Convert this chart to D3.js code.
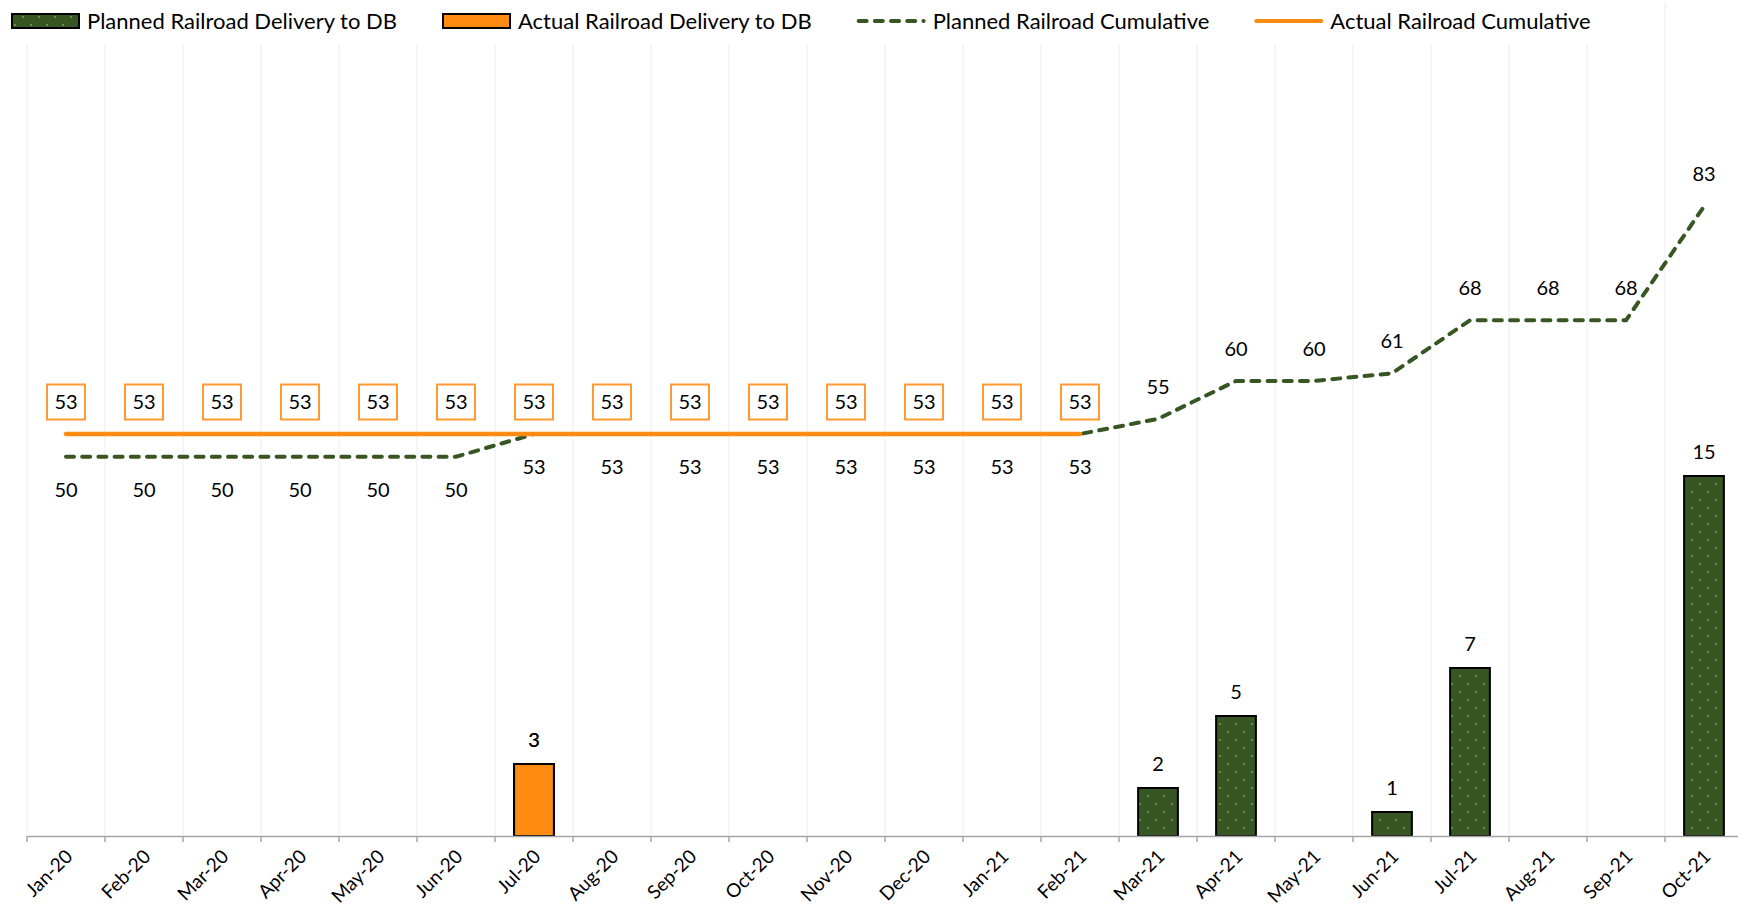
<!DOCTYPE html>
<html>
<head>
<meta charset="utf-8">
<script src="https://cdn.jsdelivr.net/npm/d3@7"></script>
<style>
    body { margin: 0; background: #fff; }
    text { font-family: Lato, "Open Sans", sans-serif; fill: #000; }
</style>
</head>
<body>
<svg id="chart" width="1738" height="909"></svg>
<script>
// months on the category axis
var months = ['Jan-20', 'Feb-20', 'Mar-20', 'Apr-20', 'May-20', 'Jun-20', 'Jul-20', 'Aug-20',
    'Sep-20', 'Oct-20', 'Nov-20', 'Dec-20', 'Jan-21', 'Feb-21', 'Mar-21', 'Apr-21', 'May-21',
    'Jun-21', 'Jul-21', 'Aug-21', 'Sep-21', 'Oct-21'];

// monthly deliveries (bars), null = nothing that month
var plannedDelivery = [null, null, null, null, null, null, 3, null, null, null, null, null, null, null,
    2, 5, null, 1, 7, null, null, 15];
var actualDelivery = [null, null, null, null, null, null, 3, null, null, null, null, null, null, null,
    null, null, null, null, null, null, null, null];

// cumulative lines (secondary axis)
var plannedCumulative = [50, 50, 50, 50, 50, 50, 53, 53, 53, 53, 53, 53, 53, 53,
    55, 60, 60, 61, 68, 68, 68, 83];
var actualCumulative = [53, 53, 53, 53, 53, 53, 53, 53, 53, 53, 53, 53, 53, 53,
    null, null, null, null, null, null, null, null];

var legendLabels = ['Planned Railroad Delivery to DB', 'Actual Railroad Delivery to DB',
    'Planned Railroad Cumulative', 'Actual Railroad Cumulative'];

var green = '#375623';
var orange = '#ff8c12';

var svg = d3.select('#chart');

var plot = {l: 27, r: 1743, t: 2, b: 836};

var x = d3.scaleBand().domain(months).range([plot.l, plot.r]);
var barW = x.bandwidth() * 0.51;
// primary axis (bars) and secondary axis (lines), both hidden
var yBar = d3.scaleLinear().domain([0, 33]).range([plot.b, 44]);
var yLine = d3.scaleLinear().domain([0, 104]).range([plot.b, 47.2]);

function cx(i) { return x(months[i]) + x.bandwidth() / 2; }

// dotted fill for the planned bars
var defs = svg.append('defs');
var pat = defs.append('pattern')
    .attr('id', 'dots')
    .attr('patternUnits', 'userSpaceOnUse')
    .attr('width', 16).attr('height', 16);
pat.append('rect').attr('width', 16).attr('height', 16).attr('fill', green);
pat.append('rect').attr('x', 3).attr('y', 3).attr('width', 2).attr('height', 2).attr('fill', '#5f9444');
pat.append('rect').attr('x', 11).attr('y', 11).attr('width', 2).attr('height', 2).attr('fill', '#5f9444');

// vertical gridlines on month boundaries
var bounds = months.map(function(m) { return x(m); }).concat([plot.r]);
svg.append('g').selectAll('line')
    .data(bounds)
    .enter().append('line')
    .attr('x1', function(d) { return d; })
    .attr('x2', function(d) { return d; })
    .attr('y1', plot.t).attr('y2', plot.b)
    .attr('stroke', '#ececec').attr('stroke-width', 1);

// bars
var barData = [];
plannedDelivery.forEach(function(v, i) { if (v != null) barData.push({i: i, v: v, s: 'p'}); });
actualDelivery.forEach(function(v, i) { if (v != null) barData.push({i: i, v: v, s: 'a'}); });

svg.append('g').selectAll('rect')
    .data(barData)
    .enter().append('rect')
    .attr('x', function(d) { return cx(d.i) - barW / 2; })
    .attr('y', function(d) { return yBar(d.v); })
    .attr('width', barW)
    .attr('height', function(d) { return yBar(0) - yBar(d.v); })
    .attr('fill', function(d) { return d.s === 'p' ? 'url(#dots)' : orange; })
    .attr('stroke', '#000')
    .attr('stroke-width', 2);

// category axis
var axis = d3.axisBottom(x).tickSize(0).tickSizeOuter(0);
var axisG = svg.append('g')
    .attr('transform', 'translate(0,' + plot.b + ')')
    .call(axis);
axisG.select('.domain').attr('stroke', '#a6a6a6').attr('stroke-width', 1.5);
axisG.selectAll('.tick text')
    .attr('x', 0).attr('y', 0).attr('dy', '0.35em')
    .attr('text-anchor', 'end')
    .attr('transform', 'translate(3,17) rotate(-45)')
    .style('font-family', 'Lato, sans-serif')
    .style('font-size', '19px')
    .attr('fill', '#000');
axisG.append('g').selectAll('line')
    .data(bounds)
    .enter().append('line')
    .attr('x1', function(d) { return d; })
    .attr('x2', function(d) { return d; })
    .attr('y1', 0).attr('y2', 6)
    .attr('stroke', '#a6a6a6').attr('stroke-width', 1.5);

// lines
var lineGen = d3.line()
    .defined(function(d) { return d != null; })
    .x(function(d, i) { return cx(i); })
    .y(function(d) { return yLine(d); });

svg.append('path')
    .datum(plannedCumulative)
    .attr('d', lineGen)
    .attr('fill', 'none')
    .attr('stroke', green)
    .attr('stroke-width', 4)
    .attr('stroke-linecap', 'round')
    .attr('stroke-dasharray', '8 8.2');

svg.append('path')
    .datum(actualCumulative)
    .attr('d', lineGen)
    .attr('fill', 'none')
    .attr('stroke', orange)
    .attr('stroke-width', 4.5)
    .attr('stroke-linecap', 'round');

// data labels
var labels = svg.append('g').style('font-size', '20px');

labels.selectAll('.bar-label')
    .data(barData)
    .enter().append('text')
    .attr('class', 'bar-label')
    .attr('x', function(d) { return cx(d.i); })
    .attr('y', function(d) { return yBar(d.v) - 24; })
    .attr('dy', '0.35em')
    .attr('text-anchor', 'middle')
    .text(function(d) { return d.v; });

labels.selectAll('.plan-label')
    .data(plannedCumulative)
    .enter().append('text')
    .attr('class', 'plan-label')
    .attr('x', function(d, i) { return cx(i); })
    .attr('y', function(d, i) { return yLine(d) + (i < 14 ? 33 : -32); })
    .attr('dy', '0.35em')
    .attr('text-anchor', 'middle')
    .text(function(d) { return d; });

var boxes = labels.selectAll('.act-label')
    .data(actualCumulative.map(function(v, i) { return {i: i, v: v}; })
        .filter(function(d) { return d.v != null; }))
    .enter().append('g')
    .attr('class', 'act-label')
    .attr('transform', function(d) { return 'translate(' + cx(d.i) + ',' + (yLine(d.v) - 32) + ')'; });
boxes.append('rect')
    .attr('x', -19).attr('y', -17.5)
    .attr('width', 38).attr('height', 35)
    .attr('fill', '#fff')
    .attr('stroke', '#ff9a33')
    .attr('stroke-width', 2);
boxes.append('text')
    .attr('dy', '0.35em')
    .attr('text-anchor', 'middle')
    .text(function(d) { return d.v; });

// legend
var legendG = svg.append('g');
var legendBg = legendG.append('rect')
    .attr('x', 0).attr('y', 0).attr('height', 44).attr('fill', '#fff');
var lx = 11;
var ly = 21;
legendLabels.forEach(function(label, k) {
    var item = legendG.append('g').attr('transform', 'translate(' + lx + ',' + ly + ')');
    if (k === 0 || k === 1) {
        item.append('rect')
            .attr('x', 1).attr('y', -7).attr('width', 67).attr('height', 14)
            .attr('fill', k === 0 ? 'url(#dots)' : orange)
            .attr('stroke', '#000').attr('stroke-width', 2);
    } else {
        item.append('line')
            .attr('x1', 2).attr('x2', 67)
            .attr('stroke', k === 2 ? green : orange)
            .attr('stroke-width', 4)
            .attr('stroke-linecap', 'round')
            .attr('stroke-dasharray', k === 2 ? '8 8.2' : null);
    }
    var t = item.append('text')
        .attr('x', 76)
        .attr('dy', '0.35em')
        .style('font-size', '22px')
        .text(label);
    lx += 76 + t.node().getComputedTextLength() + 45;
});
legendBg.attr('width', lx - 30);
</script>
</body>
</html>
